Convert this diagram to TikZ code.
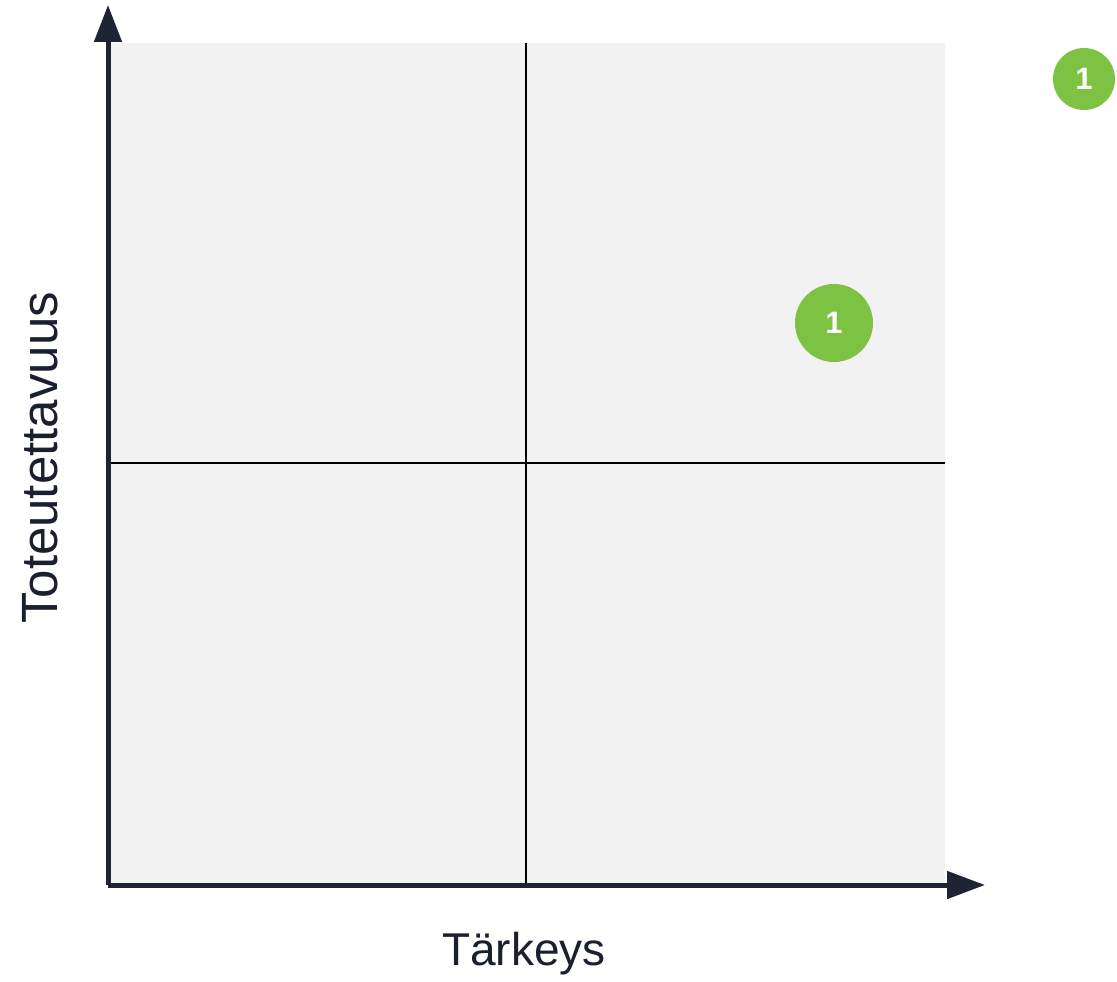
\documentclass[tikz,border=0pt]{standalone}
\usepackage{fontspec}
\setmainfont{Liberation Sans}
\usetikzlibrary{arrows.meta}
\definecolor{axiscol}{HTML}{1E2433}
\definecolor{bgcol}{HTML}{F2F2F2}
\definecolor{greencol}{HTML}{7DC242}
\tikzset{
  axisline/.style={draw=axiscol, line width=5pt, line join=miter},
  quadline/.style={draw=black, line width=2pt},
  badge/.style={circle, fill=greencol, text=white, inner sep=0pt, font=\fontsize{31}{36}\selectfont\bfseries},
  axislabel/.style={text=axiscol!90!black, inner sep=0pt, anchor=base}
}
\begin{document}
\begin{tikzpicture}[x=1pt,y=-1pt]
\useasboundingbox (0,0) rectangle (1117,982);
\fill[bgcol] (110,43) rectangle (945,884);
\coordinate (O) at (108,885);
\coordinate (ytip) at (108,5);
\coordinate (xtip) at (985,885);
\coordinate (vtop) at (526,43);
\coordinate (vbot) at (526,884);
\coordinate (hl) at (110,463);
\coordinate (hr) at (945,463);
\draw[quadline] (vtop) -- (vbot);
\draw[quadline] (hl) -- (hr);
\draw[axisline, -{Triangle[length=37pt,width=27pt]}] (O) -- (ytip);
\draw[axisline, -{Triangle[length=38pt,width=27pt]}] (O) -- (xtip);
\node[badge, minimum size=78pt] (b1) at (834,323) {1};
\node[badge, minimum size=62pt] (b2) at (1084,79) {1};
\node[axislabel, font=\fontsize{46}{52}\selectfont] (xl) at (524,965) {Tärkeys};
\node[axislabel, rotate=90, font=\fontsize{51}{58}\selectfont] (yl) at (57,458) {Toteutettavuus};
\end{tikzpicture}
\end{document}
